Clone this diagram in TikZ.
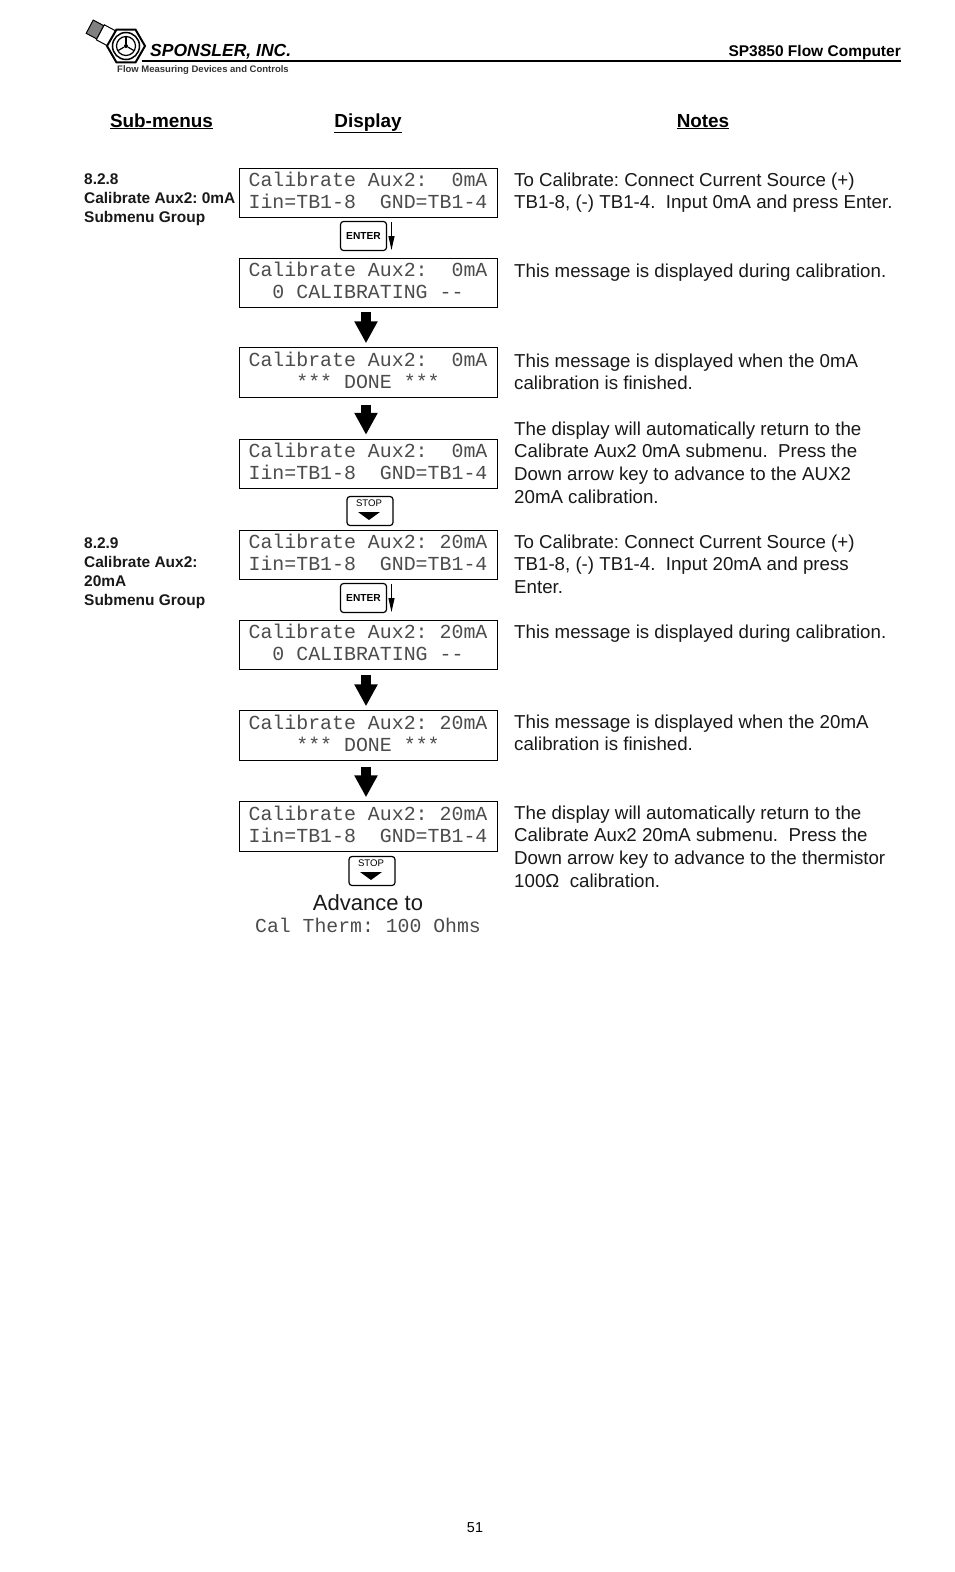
\documentclass[tikz,border=0pt]{standalone}
\usepackage{fontspec}
\setmainfont{Liberation Sans}
\newfontfamily\lcdfont{Liberation Mono}
\usetikzlibrary{arrows.meta,shapes.geometric}
\newcommand{\ulbold}[1]{\underline{\textbf{#1}}}
\frenchspacing
\tikzset{
  x=1pt,y=-1pt,
  lcdbox/.style={draw=black,line width=1pt,minimum width=258pt,minimum height=49.5pt,inner sep=0pt,fill=white,
     font=\fontsize{19.9}{22.4}\selectfont\lcdfont,text=black!70,align=center,text depth=5pt},
  keybox/.style={draw=black,line width=1.2pt,rounded corners=3pt,minimum width=46pt,minimum height=29pt,inner sep=0pt,fill=white},
  notetext/.style={anchor=north west,inner sep=0pt,align=left,font=\fontsize{18.7}{22.6}\selectfont,text=black!90},
  sidetext/.style={anchor=north west,inner sep=0pt,align=left,font=\fontsize{15.45}{18.8}\selectfont\bfseries,text=black!90},
  headtext/.style={inner sep=0pt,anchor=base,font=\fontsize{18.9}{22}\selectfont},
  bigarrow/.style={line width=9.5pt,-{Triangle[width=22pt,length=22pt]}},
  thinarrow/.style={line width=1pt,-{Triangle[width=6pt,length=14pt]}},
  stoplabel/.style={inner sep=0pt,font=\fontsize{9.6}{10}\selectfont},
}
\begin{document}
\begin{tikzpicture}
\useasboundingbox[fill=white] (0,0) rectangle (954,1572);
% logo
\begin{scope}[shift={(95,29.5)},rotate=-28,transform shape]
  \node[rectangle,draw=black,fill=black!50,line width=1pt,minimum width=12pt,minimum height=15pt,inner sep=0pt] (probe) at (0,0) {};
  \node[rectangle,draw=black,fill=white,line width=1pt,minimum width=13pt,minimum height=17pt,inner sep=0pt] (neck) at (12.5,0) {};
\end{scope}
\begin{scope}[shift={(126,46)}]
  \node[regular polygon,regular polygon sides=6,draw=black,line width=2pt,minimum size=38pt,inner sep=0pt,fill=white] (hex) at (0,0) {};
  \node[circle,draw=black,line width=1.5pt,minimum size=27pt,inner sep=0pt] (ring) at (0,0) {};
  \node[circle,draw=black,line width=1.2pt,minimum size=19pt,inner sep=0pt] (inner) at (0,0) {};
  \node[circle,fill=black,minimum size=4pt,inner sep=0pt] (hub) at (0,0) {};
  \foreach \a in {90,210,330} \draw[line width=1.2pt] (hub) -- (\a:-9);
\end{scope}
\node[inner sep=0pt,anchor=west,font=\fontsize{17.5}{18}\selectfont\bfseries\itshape] (brand) at (150,52) {SPONSLER, INC.};
\node[inner sep=0pt,anchor=west,font=\fontsize{9.5}{11}\selectfont\bfseries,text=black!80] (tagline) at (117,70.5) {Flow Measuring Devices and Controls};
\node[inner sep=0pt,anchor=east,font=\fontsize{15.5}{16}\selectfont\bfseries] (title) at (901,52) {SP3850 Flow Computer};
\coordinate (ruleL) at (142,61);
\coordinate (ruleR) at (901,61);
\draw[line width=2pt] (ruleL) -- (ruleR);
% headers
\node[headtext] (h1) at (161.5,127) {\ulbold{Sub-menus}};
\node[headtext] (h2) at (368,127) {\ulbold{Display}};
\node[headtext] (h3) at (703,127) {\ulbold{Notes}};
% side
\node[sidetext] (s1) at (84,174) {8.2.8\\Calibrate Aux2: 0mA\\Submenu Group};
\node[sidetext] (s2) at (84,538) {8.2.9\\Calibrate Aux2:\\20mA\\Submenu Group};
% displays
\node[lcdbox] (d1) at (368,193) {Calibrate Aux2:~~0mA\\Iin=TB1-8~~GND=TB1-4};
\node[lcdbox] (d2) at (368,283) {Calibrate Aux2:~~0mA\\0 CALIBRATING --};
\node[lcdbox] (d3) at (368,372.5) {Calibrate Aux2:~~0mA\\*** DONE ***};
\node[lcdbox] (d4) at (368,464) {Calibrate Aux2:~~0mA\\Iin=TB1-8~~GND=TB1-4};
\node[lcdbox] (d5) at (368,555) {Calibrate Aux2: 20mA\\Iin=TB1-8~~GND=TB1-4};
\node[lcdbox] (d6) at (368,645) {Calibrate Aux2: 20mA\\0 CALIBRATING --};
\node[lcdbox] (d7) at (368,735.5) {Calibrate Aux2: 20mA\\*** DONE ***};
\node[lcdbox] (d8) at (368,826.5) {Calibrate Aux2: 20mA\\Iin=TB1-8~~GND=TB1-4};
% arrows
\draw[bigarrow,shorten <=4pt,shorten >=4pt] ([xshift=-2pt]d2.south) -- ([xshift=-2pt]d3.north);
\draw[bigarrow,shorten <=7pt,shorten >=4pt] ([xshift=-2pt]d3.south) -- ([xshift=-2pt]d4.north);
\draw[bigarrow,shorten <=5pt,shorten >=4pt] ([xshift=-2pt]d6.south) -- ([xshift=-2pt]d7.north);
\draw[bigarrow,shorten <=6pt,shorten >=4pt] ([xshift=-2pt]d7.south) -- ([xshift=-2pt]d8.north);
% enter keys
\node[keybox,font=\fontsize{10.2}{11}\selectfont\bfseries] (k1) at (363.5,236) {ENTER};
\coordinate (a1s) at (391.5,222); \coordinate (a1e) at (391.5,250);
\draw[thinarrow] (a1s) -- (a1e);
\node[keybox,font=\fontsize{10.2}{11}\selectfont\bfseries] (k3) at (363.5,598) {ENTER};
\coordinate (a3s) at (391.5,584); \coordinate (a3e) at (391.5,612);
\draw[thinarrow] (a3s) -- (a3e);
% stop keys
\node[keybox] (k2) at (370,511) {};
\node[stoplabel] (k2t) at (369,503) {STOP};
\fill ([xshift=-12pt,yshift=-1pt]k2.center) -- ([xshift=10pt,yshift=-1pt]k2.center) -- ([xshift=-1pt,yshift=-9pt]k2.center) -- cycle;
\node[keybox] (k4) at (372,871) {};
\node[stoplabel] (k4t) at (371,863) {STOP};
\fill ([xshift=-12pt,yshift=-1pt]k4.center) -- ([xshift=10pt,yshift=-1pt]k4.center) -- ([xshift=-1pt,yshift=-9pt]k4.center) -- cycle;
% advance
\node[inner sep=0pt,font=\fontsize{22}{24}\selectfont,text=black!90] (adv) at (368,902.5) {Advance to};
\node[inner sep=0pt,font=\fontsize{19.8}{22}\selectfont\lcdfont,text=black!70] (cal) at (368,925) {Cal Therm: 100 Ohms};
% notes
\node[notetext] (n1) at (514,172.5) {To Calibrate: Connect Current Source (+)\\TB1-8, (-) TB1-4.\ \ Input 0mA and press Enter.};
\node[notetext] (n2) at (514,263.5) {This message is displayed during calibration.};
\node[notetext] (n3) at (514,353.5) {This message is displayed when the 0mA\\calibration is finished.};
\node[notetext] (n4) at (514,421.5) {The display will automatically return to the\\Calibrate Aux2 0mA submenu.\ \ Press the\\Down arrow key to advance to the AUX2\\20mA calibration.};
\node[notetext] (n5) at (514,534.5) {To Calibrate: Connect Current Source (+)\\TB1-8, (-) TB1-4.\ \ Input 20mA and press\\Enter.};
\node[notetext] (n6) at (514,624.5) {This message is displayed during calibration.};
\node[notetext] (n7) at (514,714.5) {This message is displayed when the 20mA\\calibration is finished.};
\node[notetext] (n8) at (514,805.5) {The display will automatically return to the\\Calibrate Aux2 20mA submenu.\ \ Press the\\Down arrow key to advance to the thermistor\\100Ω\ \ calibration.};
\node[inner sep=0pt,font=\fontsize{14.4}{16}\selectfont] (page) at (475,1528) {51};
\end{tikzpicture}
\end{document}
